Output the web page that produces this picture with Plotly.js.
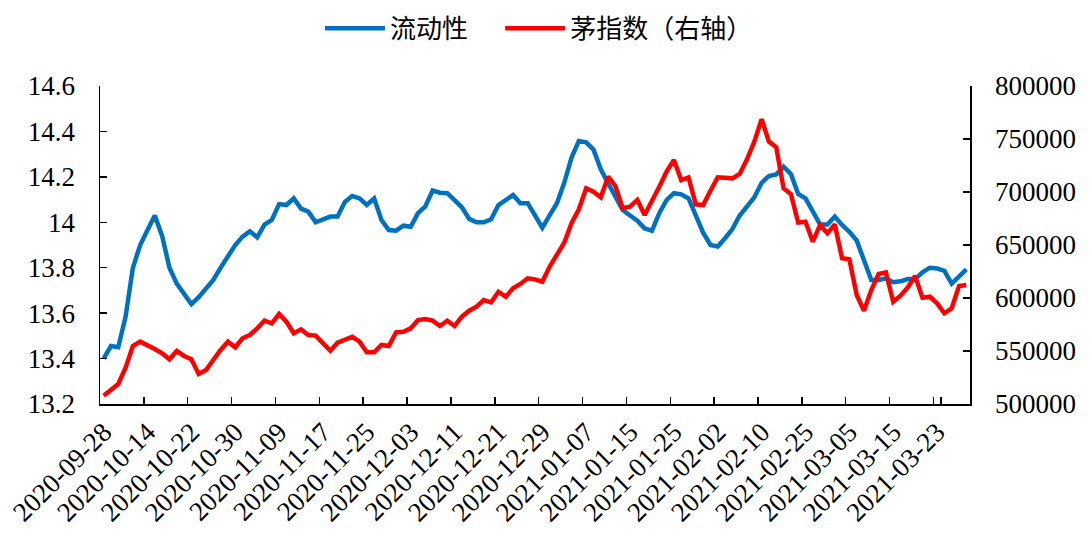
<!DOCTYPE html>
<html>
<head>
<meta charset="utf-8">
<script src="https://cdn.plot.ly/plotly-3.0.1.min.js"></script>
<style>html,body{margin:0;padding:0;background:#fff;}#chart{width:1092px;height:543px;}</style>
</head>
<body>
<div id="chart"></div>
<script>
const dates = [
"2020-09-28","2020-09-29","2020-09-30","2020-10-09","2020-10-12","2020-10-13","2020-10-14","2020-10-15","2020-10-16","2020-10-19",
"2020-10-20","2020-10-21","2020-10-22","2020-10-23","2020-10-26","2020-10-27","2020-10-28","2020-10-29","2020-10-30","2020-11-02",
"2020-11-03","2020-11-04","2020-11-05","2020-11-06","2020-11-09","2020-11-10","2020-11-11","2020-11-12","2020-11-13","2020-11-16",
"2020-11-17","2020-11-18","2020-11-19","2020-11-20","2020-11-23","2020-11-24","2020-11-25","2020-11-26","2020-11-27","2020-11-30",
"2020-12-01","2020-12-02","2020-12-03","2020-12-04","2020-12-07","2020-12-08","2020-12-09","2020-12-10","2020-12-11","2020-12-14",
"2020-12-15","2020-12-16","2020-12-17","2020-12-18","2020-12-21","2020-12-22","2020-12-23","2020-12-24","2020-12-25","2020-12-28",
"2020-12-29","2020-12-30","2020-12-31","2021-01-04","2021-01-05","2021-01-06","2021-01-07","2021-01-08","2021-01-11","2021-01-12",
"2021-01-13","2021-01-14","2021-01-15","2021-01-18","2021-01-19","2021-01-20","2021-01-21","2021-01-22","2021-01-25","2021-01-26",
"2021-01-27","2021-01-28","2021-01-29","2021-02-01","2021-02-02","2021-02-03","2021-02-04","2021-02-05","2021-02-08","2021-02-09",
"2021-02-10","2021-02-18","2021-02-19","2021-02-22","2021-02-23","2021-02-24","2021-02-25","2021-02-26","2021-03-01","2021-03-02",
"2021-03-03","2021-03-04","2021-03-05","2021-03-08","2021-03-09","2021-03-10","2021-03-11","2021-03-12","2021-03-15","2021-03-16",
"2021-03-17","2021-03-18","2021-03-19","2021-03-22","2021-03-23","2021-03-24","2021-03-25","2021-03-26","2021-03-29"
];

const liquidity = [
13.40,13.455,13.45,13.585,13.80,13.90,13.966,14.03,13.94,13.80,
13.73,13.684,13.64,13.67,13.705,13.746,13.80,13.85,13.90,13.937,
13.96,13.934,13.99,14.01,14.08,14.076,14.105,14.06,14.047,14.00,
14.01,14.025,14.025,14.09,14.116,14.105,14.076,14.105,14.01,13.966,
13.963,13.985,13.98,14.04,14.07,14.14,14.13,14.128,14.098,14.066,
14.015,14.00,14.00,14.013,14.076,14.098,14.12,14.084,14.084,14.03,
13.976,14.03,14.084,14.174,14.285,14.358,14.352,14.32,14.233,14.172,
14.116,14.054,14.03,14.007,13.973,13.963,14.04,14.098,14.128,14.123,
14.105,14.025,13.954,13.90,13.893,13.93,13.97,14.03,14.07,14.11,
14.174,14.204,14.211,14.245,14.213,14.125,14.105,14.05,13.99,13.99,
14.025,13.988,13.958,13.92,13.834,13.746,13.746,13.753,13.736,13.74,
13.75,13.75,13.78,13.80,13.797,13.786,13.73,13.76,13.793
];

const maoIndex = [
507800,513200,518900,534300,554700,558800,555700,551900,547800,542200,
550000,545300,542200,528300,532100,542200,551000,558800,553500,562000,
565100,571400,578600,576100,584900,577600,566700,570400,565100,564500,
557300,550300,557800,560400,563500,558800,548800,548800,555700,554700,
567600,568200,571400,579200,580200,578600,573600,578600,573600,582400,
588000,591800,598100,595900,605900,601200,609100,613200,618600,617600,
615400,629500,641200,652200,670500,683700,703500,700300,695000,714500,
705700,684600,686100,692500,678300,690900,705000,719200,730200,711300,
713800,688400,687700,701200,713800,713500,712900,717000,730800,747500,
768600,747500,742200,703500,698100,671100,672000,653100,668900,661000,
669500,637500,636500,602800,588000,607500,622600,624200,596500,602200,
610100,620800,600300,601200,595000,585600,590300,611300,612300
];

const seriesNames = ["流动性", "茅指数（右轴）"];
const tickDates = dates.filter((d, i) => i % 6 === 0);

const tickFont = {family: "Liberation Serif, Times New Roman, serif", size: 27, color: "#000"};
const legendFont = {family: "Noto Sans CJK SC", size: 26, color: "#000"};

const traces = [
  {x: dates, y: liquidity, name: seriesNames[0], type: "scatter", mode: "lines",
   line: {color: "#0070C0", width: 4.5}, yaxis: "y", legend: "legend"},
  {x: dates, y: maoIndex, name: seriesNames[1], type: "scatter", mode: "lines",
   line: {color: "#FF0000", width: 4.5}, yaxis: "y2", legend: "legend2"}
];

const layout = {
  width: 1092, height: 543,
  margin: {l: 100, r: 122, t: 86, b: 139},
  paper_bgcolor: "#fff", plot_bgcolor: "#fff",
  showlegend: true,
  legend: {orientation: "h", xref: "container", x: 0.293, xanchor: "left", yref: "container", y: 0.948, yanchor: "middle",
           font: legendFont, itemwidth: 60},
  legend2: {orientation: "h", xref: "container", x: 0.458, xanchor: "left", yref: "container", y: 0.948, yanchor: "middle",
           font: legendFont, itemwidth: 60},
  xaxis: {type: "category", range: [-0.5, dates.length - 0.5], tickmode: "array", tickvals: tickDates,
          ticktext: tickDates, tickson: "boundaries", ticks: "inside", ticklen: 7, tickwidth: 1.5, tickcolor: "#000",
          tickangle: -45, tickfont: tickFont, showline: true, linecolor: "#000", linewidth: 1.5,
          showgrid: false, zeroline: false},
  yaxis: {range: [13.2, 14.6], dtick: 0.2, tick0: 13.2, ticks: "inside", ticklen: 7, tickwidth: 1.5, tickcolor: "#000",
          tickfont: tickFont, showline: true, linecolor: "#000", linewidth: 1.5, showgrid: false, zeroline: false,
          ticklabelstandoff: 18},
  yaxis2: {range: [500000, 800000], dtick: 50000, tick0: 500000, overlaying: "y", side: "right", tickformat: "d",
           ticks: "inside", ticklen: 7, tickwidth: 1.5, tickcolor: "#000", tickfont: tickFont,
           showline: true, linecolor: "#000", linewidth: 1.5, showgrid: false, zeroline: false,
           ticklabelstandoff: 18}
};

Plotly.newPlot("chart", traces, layout, {displayModeBar: false, staticPlot: true});
</script>
</body>
</html>
